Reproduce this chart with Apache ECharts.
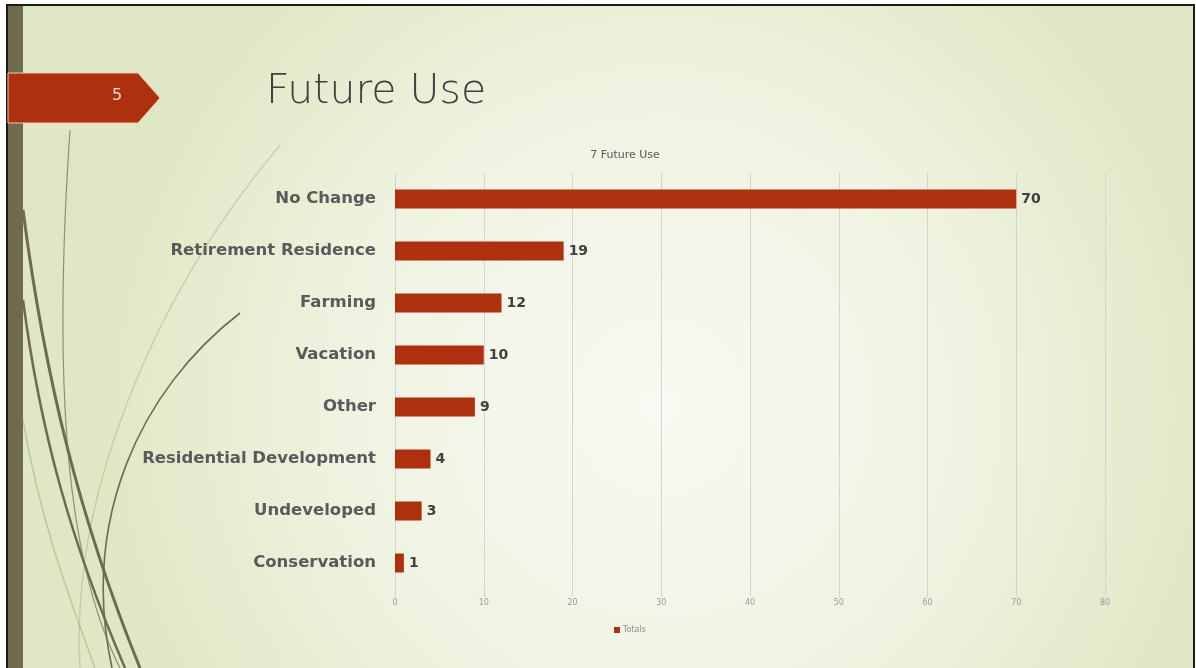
<!DOCTYPE html>
<html>
<head>
<meta charset="utf-8">
<style>
  html, body { margin: 0; padding: 0; background: #ffffff; }
  #chart { width: 1196px; height: 668px; }
</style>
<script src="https://cdn.jsdelivr.net/npm/echarts@6/dist/echarts.min.js"></script>
</head>
<body>
<div id="chart"></div>
<script>
// Survey responses: intended future use of the land
const categories = ['No Change', 'Retirement Residence', 'Farming', 'Vacation', 'Other',
  'Residential Development', 'Undeveloped', 'Conservation'];
const totals = [70, 19, 12, 10, 9, 4, 3, 1];
const xTicks = [0, 10, 20, 30, 40, 50, 60, 70, 80];

const chart = echarts.init(document.getElementById('chart'));

const olive = '#6f6b4f';

chart.setOption({
  backgroundColor: '#ffffff',
  animation: false,
  title: {
    text: '7 Future Use',
    left: 620, top: 145,
    textAlign: 'center',
    textStyle: { fontFamily: 'DejaVu Sans', fontSize: 11, fontWeight: 'normal', color: '#595959' }
  },
  legend: {
    data: ['Totals'],
    left: 609, top: 621,
    itemWidth: 6, itemHeight: 6, itemGap: 2,
    icon: 'rect',
    textStyle: { fontFamily: 'DejaVu Sans', fontSize: 8, color: '#8a8a8a', padding: [0, 0, 0, -2] }
  },
  graphic: [
    // slide background with soft radial glow
    { type: 'rect', z: -10, silent: true,
      shape: { x: 7, y: 5, width: 1187, height: 670 },
      style: {
        fill: { type: 'radial', x: 0.55, y: 0.6, r: 0.85,
          colorStops: [{ offset: 0, color: '#f8f9f2' }, { offset: 0.55, color: '#eff3e1' }, { offset: 1, color: '#e0e7c4' }] },
        stroke: '#1a1a1a', lineWidth: 2
      } },
    // dark vertical band on the left edge
    { type: 'rect', z: -9, silent: true,
      shape: { x: 8, y: 6, width: 15, height: 668 },
      style: { fill: olive } },
    // decorative stems
    { type: 'bezierCurve', z: -8, silent: true,
      shape: { x1: 280, y1: 145, x2: 80, y2: 668, cpx1: 150, cpy1: 300, cpx2: 70, cpy2: 500 },
      style: { stroke: 'rgba(150,160,120,0.35)', lineWidth: 1.5, fill: null } },
    { type: 'bezierCurve', z: -8, silent: true,
      shape: { x1: 70, y1: 130, x2: 120, y2: 668, cpx1: 55, cpy1: 350, cpx2: 60, cpy2: 550 },
      style: { stroke: 'rgba(111,107,79,0.7)', lineWidth: 1.2, fill: null } },
    { type: 'bezierCurve', z: -8, silent: true,
      shape: { x1: 23, y1: 210, x2: 140, y2: 668, cpx1: 45, cpy1: 380, cpx2: 80, cpy2: 520 },
      style: { stroke: olive, lineWidth: 3, fill: null } },
    { type: 'bezierCurve', z: -8, silent: true,
      shape: { x1: 23, y1: 300, x2: 125, y2: 668, cpx1: 40, cpy1: 430, cpx2: 70, cpy2: 540 },
      style: { stroke: olive, lineWidth: 2.5, fill: null } },
    { type: 'bezierCurve', z: -8, silent: true,
      shape: { x1: 240, y1: 313, x2: 112, y2: 668, cpx1: 140, cpy1: 390, cpx2: 80, cpy2: 520 },
      style: { stroke: olive, lineWidth: 1.6, fill: null } },
    { type: 'bezierCurve', z: -8, silent: true,
      shape: { x1: 23, y1: 420, x2: 95, y2: 668, cpx1: 40, cpy1: 520, cpx2: 70, cpy2: 600 },
      style: { stroke: 'rgba(150,160,120,0.45)', lineWidth: 1.5, fill: null } },
    // section number tag
    { type: 'polygon', z: 5, silent: true,
      shape: { points: [[8, 73], [138, 73], [160, 98], [138, 123], [8, 123]] },
      style: { fill: '#ad300f', stroke: '#f2c9b2', lineWidth: 1 } },
    { type: 'text', z: 6, silent: true, left: 112, top: 88,
      style: { text: '5', fill: '#f7dccd', font: '16px "DejaVu Sans"' } },
    // slide heading
    { type: 'text', z: 6, silent: true, left: 266, top: 72,
      style: { text: 'Future Use', fill: '#404040', font: '200 41px "DejaVu Sans"' } }
  ],
  grid: { left: 395, right: 91, top: 173, bottom: 79, containLabel: false },
  xAxis: {
    type: 'value',
    min: xTicks[0], max: xTicks[xTicks.length - 1], interval: 10,
    axisLine: { show: false },
    axisTick: { show: true, length: 8, lineStyle: { color: '#d3d3d3' } },
    axisLabel: { fontFamily: 'DejaVu Sans', fontSize: 8, color: '#9a9a9a', margin: 10 },
    splitLine: { show: true, lineStyle: { color: '#d3d3d3', width: 1 } }
  },
  yAxis: {
    type: 'category',
    data: categories,
    inverse: true,
    axisLine: { show: false },
    axisTick: { show: false },
    axisLabel: { fontFamily: 'DejaVu Sans', fontSize: 16.5, fontWeight: 'bold', color: '#5a5a5a', margin: 19 }
  },
  series: [{
    name: 'Totals',
    type: 'bar',
    data: totals,
    barWidth: 19,
    itemStyle: { color: '#ae300e' },
    label: {
      show: true, position: 'right', distance: 5,
      fontFamily: 'DejaVu Sans', fontSize: 14, fontWeight: 'bold', color: '#404040'
    }
  }]
});
</script>
</body>
</html>
